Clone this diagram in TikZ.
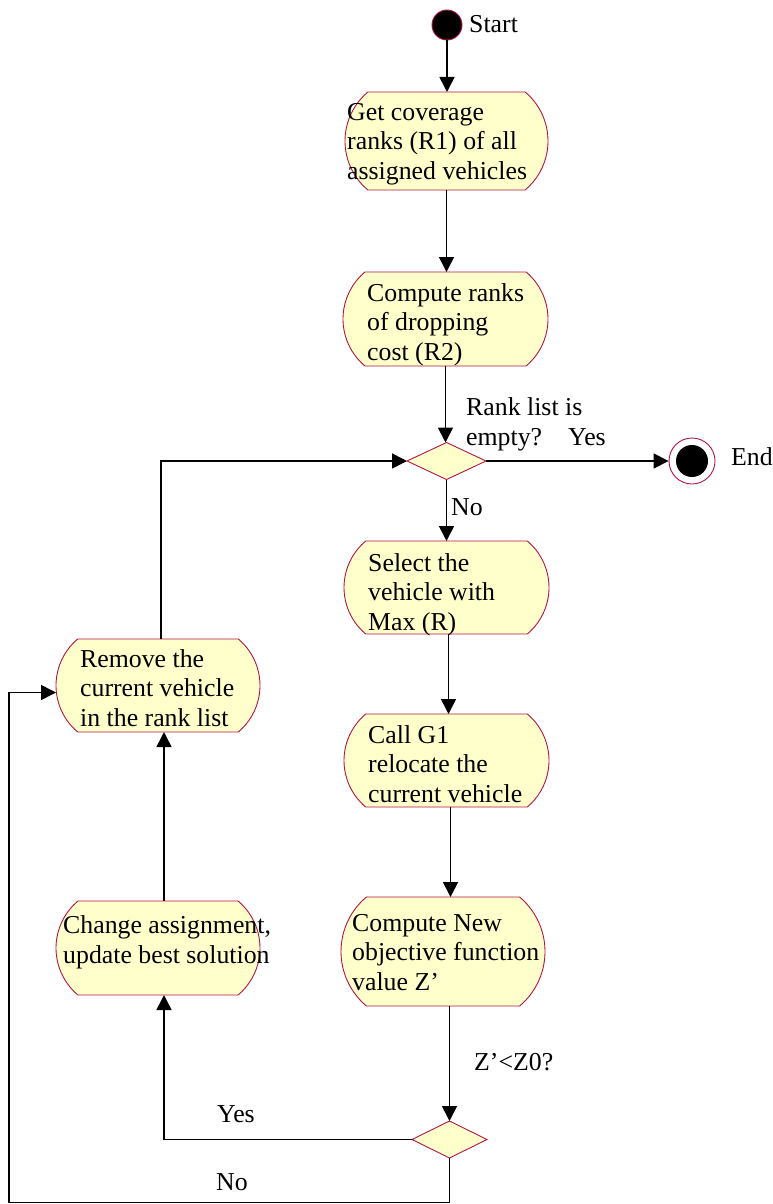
\documentclass[tikz,border=0pt]{standalone}
\usepackage{fontspec}
\setmainfont{Liberation Serif}
\usetikzlibrary{arrows.meta,calc}
\definecolor{boxfill}{RGB}{255,255,204}
\definecolor{boxedge}{RGB}{180,20,70}
\tikzset{
  every node/.style={font=\fontsize{25.8}{29.5}\selectfont},
  anchorbox/.style={rectangle, draw=none, inner sep=0pt, outer sep=0pt},
  shapeline/.style={fill=boxfill, draw=boxedge, line width=0.9pt},
  txt/.style={anchor=base west, align=left, inner sep=0pt},
  flow/.style={line width=1.6pt, -{Triangle[length=15pt,width=15pt]}},
  plain/.style={line width=1.6pt},
}
\newcommand\actbox[4]{%
  \node[anchorbox, minimum width=#3pt, minimum height=#4pt] (#1) at (#2) {};
  \pgfmathsetmacro\bxr{#4/(2*sin(50))}%
  \pgfmathsetmacro\bxs{\bxr*(1-cos(50))}%
  \path[shapeline] ($(#1.north west)+(\bxs pt,0)$) -- ($(#1.north east)+(-\bxs pt,0)$)
    arc[start angle=50,end angle=-50,radius=\bxr pt]
    -- ($(#1.south west)+(\bxs pt,0)$)
    arc[start angle=230,end angle=130,radius=\bxr pt] -- cycle;
}
\newcommand\decbox[4]{%
  \node[anchorbox, minimum width=#3pt, minimum height=#4pt] (#1) at (#2) {};
  \path[shapeline] (#1.north) -- (#1.east) -- (#1.south) -- (#1.west) -- cycle;
}
\begin{document}
\begin{tikzpicture}[x=1pt,y=1pt]
\useasboundingbox (0,0) rectangle (772,-1204);

% start / end
\node[circle, fill=black, draw=boxedge, line width=0.9pt, minimum size=30pt, inner sep=0pt] (start) at (447,-25) {};
\node[circle, fill=white, draw=boxedge, line width=0.9pt, minimum size=46pt, inner sep=0pt] (end) at (692,-461) {};
\node[circle, fill=black, minimum size=32pt, inner sep=0pt] (endin) at (end) {};

% activity boxes
\actbox{b1}{446.5,-141}{203}{98}
\actbox{b2}{445.5,-319}{205}{94}
\actbox{b3}{446.5,-587.5}{205}{93}
\actbox{b4}{446.5,-760.5}{205}{93}
\actbox{b5}{443,-951.5}{204}{109}
\actbox{rem}{158,-685.5}{204}{93}
\actbox{chg}{158,-948}{204}{94}

% decisions
\decbox{d1}{446.5,-461}{79}{37}
\decbox{d2}{449.5,-1139.5}{75}{37}

% corner points of the "No" loop
\coordinate (nb1) at (449.5,-1202.5);
\coordinate (nb2) at (9,-1202.5);

% connectors
\draw[flow] (start.south) -- (start.south |- b1.north);
\draw[flow] (b1.south) -- (b1.south |- b2.north);
\draw[flow] (b2.south) -- (b2.south |- d1.north);
\draw[flow] (d1.east) -- (end.west);
\draw[flow] (d1.south) -- (d1.south |- b3.north);
\draw[flow] ([xshift=2pt]b3.south) -- ([xshift=2pt]b3.south |- b4.north);
\draw[flow] ([xshift=4pt]b4.south) -- ([xshift=4pt]b4.south |- b5.north);
\draw[flow] (d2.north |- b5.south) -- (d2.north);
\draw[flow] (d2.west) -| ([xshift=6pt]chg.south);
\draw[flow] ([xshift=6pt]chg.north) -- ([xshift=6pt]chg.north |- rem.south);
\draw[flow] ([xshift=3pt]rem.north) |- (d1.west);
\draw[plain] (d2.south) -- (nb1) -- (nb2);
\draw[flow] (nb2) |- ([yshift=-7pt]rem.west);

% texts (base anchor = baseline of last line)
\node[txt] (tstart) at (469,-33) {Start};
\node[txt] (t1) at (347,-179) {Get coverage\\ranks (R1) of all\\assigned vehicles};
\node[txt] (t2) at (367,-360) {Compute ranks\\of dropping\\cost (R2)};
\node[txt] (tq1) at (466,-445) {Rank list is\\empty?};
\node[txt] (tyes1) at (568,-445) {Yes};
\node[txt] (tend) at (731,-465) {End};
\node[txt] (tno1) at (451,-515) {No};
\node[txt] (t3) at (368,-630) {Select the\\vehicle with\\Max (R)};
\node[txt] (t4) at (368,-802) {Call G1\\relocate the\\current vehicle};
\node[txt] (t5) at (352,-990) {Compute New\\objective function\\value Z’};
\node[txt] (tq2) at (474,-1070) {Z’<Z0?};
\node[txt] (trem) at (80,-726) {Remove the\\current vehicle\\in the rank list};
\node[txt] (tchg) at (63,-963) {Change assignment,\\update best solution};
\node[txt] (tyes2) at (217,-1122) {Yes};
\node[txt] (tno2) at (216,-1190) {No};
\end{tikzpicture}
\end{document}
